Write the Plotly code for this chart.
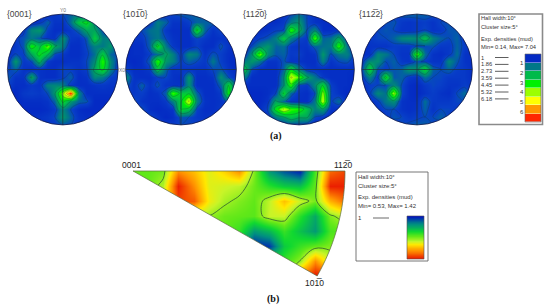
import math
import plotly.graph_objects as go

W, H = 550, 308

# ---------- data ----------
pole_0001 = [
 [.5,.5,.5,.5,.5,.6,.8,1.0,1.2,1.4,1.0,.6,.5,.5,.5],
 [.5,.5,.5,.6,.8,1.2,.7,.7,1.3,2.5,3,1.6,.7,.5,.5],
 [.5,.5,.8,1.6,1.8,.9,.6,.6,.8,1.2,2,2,1,.6,.5],
 [.5,.9,1.1,1.4,1.1,.7,.7,1.8,.8,.7,1.1,2.6,1.5,1.5,.5],
 [.5,.8,1.1,3.2,2.4,3.8,2.0,1.5,.6,.6,1.0,1.5,1.4,1.8,.8],
 [.6,1,.9,2,3,2.2,1.0,.8,.6,.6,.9,1.3,2.6,1.2,1],
 [.7,1.8,.8,1.0,2.2,.8,.6,.6,.7,.7,1,1.6,3.4,1.6,.8],
 [.9,1.2,.7,.6,.7,.6,.6,1.0,.9,.7,.9,2,3,1.5,.7],
 [1.2,.7,.7,2,.7,.6,.6,.9,1.2,.6,.7,1.6,1.4,.9,.8],
 [.9,.6,.6,.8,.7,1.5,1.6,1.5,.8,.6,.6,.7,.8,.7,.7],
 [.5,.5,.8,.9,.8,1,1.8,4,7,1.6,.6,.6,.6,.6,.5],
 [.5,.5,.6,.6,.6,.7,1.2,3,1.8,1.2,1.1,.5,.5,.5,.5],
 [.5,.5,.5,.5,.5,.6,.8,1.6,1,.6,.5,.5,.5,.5,.5],
 [.5,.5,.5,.6,.7,.8,1.0,1.8,1.2,.7,.6,.6,.5,.5,.5],
 [.5,.5,.5,.5,.5,.7,.9,1,1,.8,.6,.5,.5,.5,.5],
]
pole_1010 = [
 [.5,.5,.5,.5,.6,.8,1,1.1,1.2,1.2,1.1,.8,.5,.5,.5],
 [.5,.5,.5,.8,1.5,1.2,.7,.7,.9,1.2,1.2,1.2,.8,.5,.5],
 [.5,.5,1.0,1.3,1.4,.8,.6,.6,.6,3,1.2,.7,1,.6,.5],
 [.5,.7,.8,1.2,1.4,1,.7,.6,.6,1.0,.8,.6,.7,.7,.5],
 [.5,.6,.6,1.2,3,1.4,.8,.6,.6,.9,.6,.6,1.1,.7,.5],
 [.5,.6,.6,.9,1.3,2.0,1.5,.8,1.6,1.4,.7,1.1,.9,.6,.6],
 [.6,.5,.6,1.2,3.4,1.8,1.5,.9,1.2,1,.8,1.4,.9,.6,.5],
 [.9,.6,.6,.8,2.4,1.2,.7,.8,.7,.7,.7,1,1.1,.7,.5],
 [1.7,.7,.6,.6,.9,1.0,.7,.6,1.8,.6,.6,.7,1.7,1,.6],
 [1.2,.7,1.2,.7,1.1,.7,.7,.7,1.7,.6,.6,.6,1.2,2.8,.9],
 [.7,.8,.9,.6,.7,1.2,3.6,2.5,2.6,1.2,.6,.6,.8,3.2,1],
 [.5,1.1,.7,.6,.6,.8,1.5,2.6,4.6,1.5,.7,.6,.7,1.2,.7],
 [.5,.8,1.1,.6,.5,.6,.7,2.8,2.4,.9,.6,.6,.8,.9,.5],
 [.5,.5,.9,1,.7,.5,.6,1.1,1,.8,.7,.8,.9,.6,.5],
 [.5,.5,.5,.6,.9,.9,.9,1,1,1,.9,.8,.5,.5,.5],
]
pole_1120 = [
 [.5,.5,.5,.5,.5,.7,1,1.3,1,.7,.5,.5,.5,.5,.5],
 [.5,.5,.5,.6,.6,.8,1.4,1.8,1,.7,.6,.5,.5,.5,.5],
 [.5,.5,.6,.7,.9,1,3.4,2.2,1,1.6,.6,.6,.7,.5,.5],
 [.5,.7,.9,1.1,1.5,2.6,1.5,1,.8,3.6,1.2,1.3,2,1,.5],
 [.5,1,1.5,1.8,1.2,1.3,.8,.7,.7,1.2,1.3,1.4,3.4,1.4,.6],
 [.7,1.7,3.8,1.6,1.1,1.2,.8,.9,.6,.7,1.8,1,1.4,1.5,.9],
 [1.4,1.8,1.4,.7,.7,1.1,.7,.7,.6,.6,1.5,.7,1,1.1,.8],
 [2.6,1,.6,.6,.6,1.2,3,1.5,.8,.7,.6,.6,.6,.6,.6],
 [1.5,.6,.6,.6,.6,1.6,4.6,3.6,2,1.4,.8,.6,.6,.6,.5],
 [.6,.6,.6,.6,.6,1.7,3.4,.9,.8,1.6,2.8,.9,.6,.6,.5],
 [.5,.5,.5,.6,.9,2.8,1.2,.7,.6,1,4,1,.7,.5,.5],
 [.5,.5,.5,.7,2,1.2,.7,.6,.6,1.4,4.4,.9,1.3,.6,.5],
 [.5,.5,.6,1,3,4.5,3.5,3.3,2.4,1.5,1.8,.7,.6,.5,.5],
 [.5,.5,.5,.7,1.4,1.8,2.4,2,2,1,.8,.5,.5,.5,.5],
 [.5,.5,.5,.5,.6,.7,.8,.8,.7,.6,.5,.5,.5,.5,.5],
]
pole_1122 = [
 [.5,.5,.5,.5,.8,1.1,1.2,1.2,1.2,1.1,.8,.5,.5,.5,.5],
 [.5,.5,.5,1,1.1,.8,.7,.8,.9,.7,1,1.1,.8,.5,.5],
 [.5,.5,1,1.1,1,.7,.7,.8,1.0,.7,.8,1.1,1.1,.7,.5],
 [.5,.8,1,1,1.2,1.6,1.7,1.6,2.4,1.5,1.2,1,1.2,.8,.5],
 [.5,.7,.7,.7,.9,.8,.8,1,1,1.1,.8,.8,1.2,.9,.6],
 [.6,.7,1.6,1.4,1,.7,.7,3.6,1.3,.7,.6,.8,1.3,.7,.6],
 [.8,1.6,1.7,1,1.2,.8,.7,1.1,.9,.7,.7,1.6,1.1,.7,.6],
 [.9,2.8,1,.9,1.1,1.2,1.8,1.7,2.8,1.2,1,1.2,.9,.8,.6],
 [.8,1.5,.8,3,1.1,1.2,.8,.7,1.3,1,1,.8,.8,.8,.6],
 [.6,.9,1,1,1.6,1,.6,.5,.8,1,.9,.7,.7,.9,.7],
 [.6,.9,1.6,1.3,4.2,1,.6,.5,.7,.9,.7,.6,1,1.3,.7],
 [.5,.6,.9,1.4,1.7,.7,.6,.6,1.3,.8,.8,.8,1,1,.5],
 [.5,.5,.7,1,1,.7,.6,.7,1.2,.7,1,1,.8,.6,.5],
 [.5,.5,.5,.8,1.1,1,.8,.9,1,1,1.2,.9,.6,.5,.5],
 [.5,.5,.5,.5,.7,1,1.1,1.2,1.2,1,.7,.5,.5,.5,.5],
]
ipf_density = [
 [.95,.95,.97,1.25,1.18,1.08,1.15,1.25,.98,.72,.62,.55,.92,1.3,1.35],
 [.95,.95,1.03,1.4,1.25,1.08,1.06,1.04,.96,.88,.82,.8,.95,1.4,1.4],
 [1,1,1.1,1.35,1.32,1.1,1.02,.98,.95,1.04,1.18,1.05,.97,1.2,1.3],
 [1,1,1,1,1,1,.96,.95,.94,1.05,1.05,.88,.75,.98,1.05],
 [.95,.95,.95,.95,.95,.95,.95,.9,.72,.78,.9,.8,.72,.92,.95],
 [.9,.9,.9,.9,.9,.9,.9,.75,.55,.58,.82,.9,.95,.98,.98],
 [.9,.9,.9,.9,.9,.9,.9,.9,.85,.85,.9,1.0,1.25,1.05,1],
 [.9,.9,.9,.9,.9,.9,.9,.9,.9,.9,1.0,1.3,1.42,1.42,1.42],
]
pole_titles = ["{0001}", "{101\u03050}", "{112\u03050}", "{112\u03052}"]
pole_levels = ["1", "1.86", "2.73", "3.59", "4.45", "5.32", "6.18"]
pole_bar_ticks = ["1", "2", "3", "4", "5", "6"]
pole_bar_steps = [0.5, 1.4, 2.3, 3.2, 4.1, 5.0, 6.0, 6.9]
ipf_bar_steps = [0.53, 0.62, 0.71, 0.8, 0.89, 0.98, 1.07, 1.16, 1.25, 1.34, 1.42]
pole_min, pole_max = 0.14, 7.04
ipf_min, ipf_max = 0.53, 1.42
level_start, level_step, level_end = 1.0, 0.865, 6.18

# ---------- styles ----------
def scale(stops, lo, hi):
    return [[(v - lo) / (hi - lo), c] for v, c in stops]

pole_scale = scale([(0.14, "#0018c0"), (0.95, "#0840c8"), (1.3, "#007090"), (1.8, "#009868"),
                    (2.5, "#00c840"), (3.2, "#00f000"), (4.0, "#90ff00"), (5.0, "#ffff00"), (6.0, "#ff9800"),
                    (7.04, "#ff1400")], pole_min, pole_max)
ipf_scale = scale([(0.53, "#0010c0"), (0.7, "#009080"), (0.85, "#10d830"), (0.95, "#60e818"),
                   (1.05, "#c8f428"), (1.12, "#ffe800"), (1.25, "#ff9000"), (1.42, "#e81000")],
                  ipf_min, ipf_max)

SANS = "Liberation Sans, Arial, sans-serif"
SERIF = "Liberation Serif, Times New Roman, serif"

fig = go.Figure()
layout = dict(width=W, height=H, margin=dict(l=0, r=0, t=0, b=0), paper_bgcolor="white",
              plot_bgcolor="white", showlegend=False)
shapes, annotations = [], []

def px(x): return x / W
def py(y): return 1 - y / H

axis_no = [0]
def add_axes(x0, x1, y0, y1, xr, yr):
    axis_no[0] += 1
    n = axis_no[0]
    sfx = "" if n == 1 else str(n)
    layout["xaxis" + sfx] = dict(domain=[px(x0), px(x1)], range=xr, visible=False, fixedrange=True,
                                 anchor="y" + sfx)
    layout["yaxis" + sfx] = dict(domain=[py(y1), py(y0)], range=yr, visible=False, fixedrange=True,
                                 anchor="x" + sfx)
    return "x" + sfx, "y" + sfx

def text(x, y, s, size=5.7, color="#333", anchor="left", font=SANS, bold=False):
    annotations.append(dict(x=px(x), y=py(y), xref="paper", yref="paper", text=("<b>%s</b>" % s) if bold else s,
                            showarrow=False, xanchor=anchor, yanchor="middle",
                            font=dict(size=size, color=color, family=font), borderpad=0, borderwidth=0))

def line(x0, y0, x1, y1, color="#222", width=0.8):
    shapes.append(dict(type="line", xref="paper", yref="paper", x0=px(x0), y0=py(y0), x1=px(x1), y1=py(y1),
                       line=dict(color=color, width=width), layer="above"))

def rect(x0, y0, x1, y1, color, width):
    shapes.append(dict(type="rect", xref="paper", yref="paper", x0=px(x0), y0=py(y0), x1=px(x1), y1=py(y1),
                       line=dict(color=color, width=width), fillcolor="rgba(0,0,0,0)", layer="above"))

def mask(outline, x0, y0, x1, y1):
    d = "M%.5f,%.5f L%.5f,%.5f L%.5f,%.5f L%.5f,%.5f Z " % (px(x0), py(y0), px(x1), py(y0), px(x1), py(y1), px(x0), py(y1))
    d += "M" + " L".join("%.5f,%.5f" % (px(a), py(b)) for a, b in outline) + " Z"
    shapes.append(dict(type="path", xref="paper", yref="paper", path=d, fillcolor="white",
                       fillrule="evenodd", line=dict(width=0), layer="above"))

# ---------- pole figures ----------
centres = [62.8, 181, 299, 417]
cy, R = 69.5, 55.4
grids = [pole_0001, pole_1010, pole_1120, pole_1122]
title_x = [7, 123, 243, 359]
for cx, grid, title, tx in zip(centres, grids, pole_titles, title_x):
    n = len(grid)
    xa, ya = add_axes(cx - R, cx + R, cy - R, cy + R, [0, n - 1], [n - 1, 0])
    fig.add_trace(go.Contour(z=grid, xaxis=xa, yaxis=ya, colorscale=pole_scale, zmin=pole_min, zmax=pole_max,
                             showscale=False, hoverinfo="skip",
                             contours=dict(coloring="heatmap", start=level_start, end=level_end, size=level_step),
                             line=dict(color="rgba(20,60,60,0.55)", width=0.5, smoothing=1)))
    circ = [(cx + R * math.cos(i * math.pi / 90), cy + R * math.sin(i * math.pi / 90)) for i in range(180)]
    mask(circ, cx - R - 2, cy - R - 2, cx + R + 2, cy + R + 2)
    shapes.append(dict(type="circle", xref="paper", yref="paper", x0=px(cx - R), x1=px(cx + R),
                       y0=py(cy - R), y1=py(cy + R), line=dict(color="#101848", width=0.8), layer="above"))
    line(cx - R, cy, cx + R, cy, "#20303a", 0.7)
    line(cx, cy - R, cx, cy + R, "#20303a", 0.7)
    text(tx, 14.5, title, size=8.5, color="#444")
text(63, 10, "Y0", size=5, color="#777", anchor="center")
text(122, 70, "X0", size=5, color="#777", anchor="center")

# legend (a)
rect(479, 14, 542.5, 124.5, "#8a8a8a", 1.6)
text(480.5, 18.5, "Hall width:10\u00b0")
text(480.5, 27, "Cluster size:5\u00b0")
text(480.5, 38.5, "Exp. densities (mud)")
text(480.5, 46.5, "Min= 0.14, Max= 7.04")
for i, lab in enumerate(pole_levels):
    yy = 57.5 + i * 6.9
    text(480.5, yy, lab)
    line(495, yy, 508.5, yy, "#333", 0.8)
xa, ya = add_axes(525, 541, 54, 122, [-0.5, 0.5], [len(pole_bar_steps) - 0.5, -0.5])
fig.add_trace(go.Heatmap(z=[[v] for v in pole_bar_steps], xaxis=xa, yaxis=ya, colorscale=pole_scale,
                         zmin=pole_min, zmax=pole_max, showscale=False, zsmooth=False, ygap=0.4, hoverinfo="skip"))
for i, lab in enumerate(pole_bar_ticks):
    text(523.5, 63 + i * 9.8, lab, anchor="right", size=6)
rect(525, 54, 541, 122, "#666", 0.6)

# ---------- inverse pole figure ----------
ox, oy = 133, 171
Rs = 212.0
nr, nc = len(ipf_density), len(ipf_density[0])
xa, ya = add_axes(ox, ox + Rs, oy, oy + 105, [0, nc - 1], [nr - 1, 0])
fig.add_trace(go.Contour(z=ipf_density, xaxis=xa, yaxis=ya, colorscale=ipf_scale, zmin=ipf_min, zmax=ipf_max,
                         showscale=False, hoverinfo="skip",
                         contours=dict(coloring="heatmap", start=1.0, end=1.0, size=0.5),
                         line=dict(color="#2f5a30", width=0.8, smoothing=1)))
ang = math.asin(105 / Rs)
sector = [(ox, oy)] + [(ox + Rs * math.cos(ang * i / 30), oy + Rs * math.sin(ang * i / 30)) for i in range(31)]
mask(sector, ox - 2, oy - 2, ox + Rs + 2, oy + 107)
d = "M" + " L".join("%.5f,%.5f" % (px(a), py(b)) for a, b in sector) + " Z"
shapes.append(dict(type="path", xref="paper", yref="paper", path=d, line=dict(color="#5a6a40", width=0.7),
                   fillcolor="rgba(0,0,0,0)", layer="above"))
text(131, 165, "0001", size=8.5, color="#222", anchor="center")
text(343, 165, "112\u03050", size=8.5, color="#222", anchor="center")
text(314.5, 283, "101\u03050", size=8.5, color="#222", anchor="center")

# legend (b)
rect(356, 172, 428, 261, "#666", 0.9)
text(357.5, 176.5, "Hall width:10\u00b0", size=6)
text(357.5, 185.5, "Cluster size:5\u00b0", size=6)
text(357.5, 197, "Exp. densities (mud)", size=6)
text(357.5, 206, "Min= 0.53, Max= 1.42", size=6)
text(357.5, 218, "1", size=6)
line(373, 218, 389, 218, "#444", 0.8)
xa, ya = add_axes(407, 424, 216, 259, [-0.5, 0.5], [len(ipf_bar_steps) - 1, 0])
fig.add_trace(go.Heatmap(z=[[v, v] for v in ipf_bar_steps], xaxis=xa, yaxis=ya, colorscale=ipf_scale,
                         zmin=ipf_min, zmax=ipf_max, showscale=False, zsmooth="best", hoverinfo="skip",
                         x=[-0.5, 0.5]))
rect(407, 216, 424, 259, "#555", 0.6)

# panel letters
text(276, 136, "(a)", size=10, color="#111", anchor="center", font=SERIF, bold=True)
text(273, 299, "(b)", size=10, color="#111", anchor="center", font=SERIF, bold=True)

layout["shapes"] = shapes
layout["annotations"] = annotations
fig.update_layout(**layout)
fig.write_html("out.html", config=dict(displayModeBar=False),
               post_script="document.body.style.margin='0';document.body.style.overflow='hidden';")
